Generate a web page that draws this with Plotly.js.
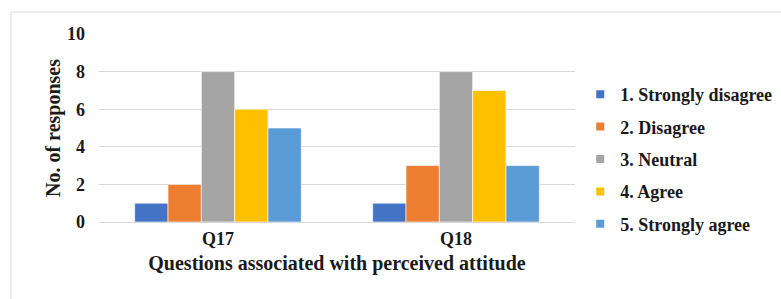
<!DOCTYPE html>
<html><head><meta charset="utf-8">
<script src="https://cdn.plot.ly/plotly-3.0.1.min.js"></script>
<style>html,body{margin:0;padding:0;background:#fff}#c{width:781px;height:299px}</style>
</head><body><div id="c"></div>
<script>
const categories = ["Q17", "Q18"];
const seriesNames = ["1. Strongly disagree", "2. Disagree", "3. Neutral", "4. Agree", "5. Strongly agree"];
const stronglyDisagree = [1, 1];
const disagree = [2, 3];
const neutral = [8, 8];
const agree = [6, 7];
const stronglyAgree = [5, 3];
const colors = ["#4472C4", "#ED7D31", "#A5A5A5", "#FFC000", "#5B9BD5"];
const series = [stronglyDisagree, disagree, neutral, agree, stronglyAgree];
const yTicks = [0, 2, 4, 6, 8, 10];

function f(size) { return {family: "Liberation Serif", size: size, weight: "bold", color: "#1a1a1a"}; }
const traces = series.map((vals, i) => ({
  type: "bar", x: categories, y: vals, name: seriesNames[i],
  legendgroup: "g" + i, showlegend: false,
  marker: {color: colors[i], line: {color: "#ffffff", width: 0.6}},
  hoverinfo: "y"
}));
// legend entries with small square swatches
series.forEach((vals, i) => traces.push({
  type: "scatter", mode: "markers", x: [null], y: [null], name: seriesNames[i],
  legendgroup: "g" + i, showlegend: true,
  marker: {color: colors[i], symbol: "square", size: 8}
}));

const layout = {
  width: 781, height: 299,
  margin: {l: 99, r: 206, t: 34, b: 77, autoexpand: false},
  paper_bgcolor: "#ffffff", plot_bgcolor: "#ffffff",
  barmode: "group", bargap: 0.3, bargroupgap: 0,
  font: f(14),
  xaxis: {
    type: "category",
    showgrid: false, showline: false, zeroline: false, ticks: "",
    tickfont: f(18), ticklabelstandoff: 4,
    title: {text: "Questions associated with perceived attitude", font: f(20), standoff: 7}
  },
  yaxis: {
    range: [0, 10], tickvals: yTicks,
    showgrid: true, gridcolor: "#D9D9D9", gridwidth: 1,
    zeroline: true, zerolinecolor: "#D9D9D9", zerolinewidth: 1,
    showline: false, ticks: "",
    tickfont: f(18), ticklabelstandoff: 13,
    title: {text: "No. of responses", font: f(20), standoff: 1}
  },
  legend: {
    x: 1.011, xanchor: "left", y: 0.335, yanchor: "middle",
    font: f(18), itemsizing: "trace",
    tracegroupgap: 6, itemwidth: 30, bgcolor: "rgba(0,0,0,0)"
  },
  shapes: [
    {type: "line", xref: "paper", yref: "paper", x0: -0.185, x1: 1.45, y0: 1.117, y1: 1.117, line: {color: "#D9D9D9", width: 1}},
    {type: "line", xref: "paper", yref: "paper", x0: -0.185, x1: -0.185, y0: 1.117, y1: -0.45, line: {color: "#D9D9D9", width: 1}}
  ],
  showlegend: true
};
Plotly.newPlot("c", traces, layout, {displayModeBar: false, staticPlot: true});
</script></body></html>
